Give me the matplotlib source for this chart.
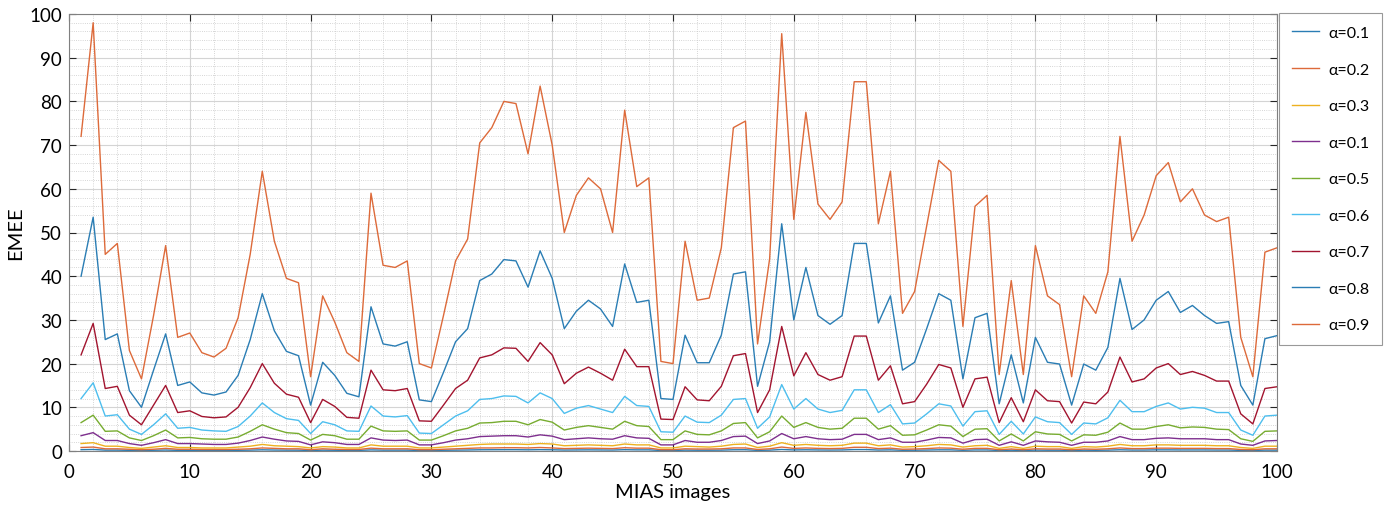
import numpy as np
import matplotlib.pyplot as plt
from matplotlib.ticker import MultipleLocator

plt.rcParams['font.family'] = ['Lato', 'DejaVu Sans']

images = np.arange(1, 101)

a09 = [72, 98, 45, 47.5, 23, 16.5, 31, 47, 26, 27,
       22.5, 21.5, 23.5, 30.5, 45, 64, 48, 39.5, 38.5, 17,
       35.5, 29.5, 22.5, 20.5, 59, 42.5, 42, 43.5, 20, 19,
       31, 43.5, 48.5, 70.5, 74, 80, 79.5, 68, 83.5, 70,
       50, 58.5, 62.5, 60, 50, 78, 60.5, 62.5, 20.5, 20,
       48, 34.5, 35, 46.5, 74, 75.5, 24.5, 44, 95.5, 53,
       77.5, 56.5, 53, 57, 84.5, 84.5, 52, 64, 31.5, 36.5,
       51.5, 66.5, 64, 28.5, 56, 58.5, 17.5, 39, 17.5, 47,
       35.5, 33.5, 17, 35.5, 31.5, 41, 72, 48, 54, 63,
       66, 57, 60, 54, 52.5, 53.5, 26, 17, 45.5, 46.5]

a08 = [40, 53.5, 25.5, 26.8, 13.8, 10, 18.5, 26.8, 15, 15.8,
       13.3, 12.8, 13.5, 17.3, 25.5, 36, 27.5, 22.8, 21.8, 10.5,
       20.3, 17.3, 13.2, 12.4, 33, 24.5, 24, 25, 11.7, 11.3,
       18, 25, 28, 39, 40.5, 43.8, 43.5, 37.5, 45.8, 39.5,
       28, 32, 34.5, 32.5, 28.5, 42.8, 34, 34.5, 12, 11.8,
       26.5, 20.2, 20.2, 26.5, 40.5, 41, 14.8, 25, 52, 30,
       42, 31, 29, 31, 47.5, 47.5, 29.3, 35.5, 18.5, 20.3,
       28, 36, 34.5, 16.5, 30.5, 31.5, 10.8, 22, 11, 26,
       20.3, 19.9, 10.5, 19.9, 18.5, 23.7, 39.5, 27.8, 30, 34.5,
       36.5, 31.7, 33.3, 31, 29.2, 29.6, 15, 10.5, 25.7, 26.4]

a07 = [22, 29.2, 14.3, 14.8, 8.2, 6, 10.5, 15, 8.8, 9.2,
       7.9, 7.6, 7.8, 10, 14.5, 20, 15.5, 13, 12.3, 6.5,
       11.8, 10.2, 7.7, 7.5, 18.5, 14, 13.8, 14.3, 6.9, 6.8,
       10.5, 14.3, 16.2, 21.3, 22, 23.6, 23.5, 20.5, 24.8, 22,
       15.4, 17.8, 19.2, 17.8, 16.2, 23.3, 19.3, 19.3, 7.3, 7.2,
       14.7, 11.7, 11.5, 14.8, 21.8, 22.3, 8.8, 14, 28.5, 17.2,
       22.5, 17.5, 16.2, 17, 26.3, 26.3, 16.2, 19.5, 10.8, 11.3,
       15.3, 19.8, 19, 10, 16.5, 16.9, 6.5, 12.2, 6.7, 14,
       11.5, 11.3, 6.4, 11.2, 10.8, 13.5, 21.5, 15.8, 16.5, 19,
       20, 17.5, 18.2, 17.3, 16, 16, 8.5, 6.2, 14.3, 14.7]

a06 = [12, 15.6, 8, 8.3, 5, 3.8, 6, 8.5, 5.2, 5.4,
       4.8, 4.6, 4.5, 5.6, 8, 11, 8.8, 7.4, 7, 4,
       6.7, 6, 4.6, 4.5, 10.3, 8, 7.8, 8.1, 4.1, 4,
       6, 8, 9.2, 11.8, 12, 12.6, 12.5, 11, 13.3, 12,
       8.6, 9.8, 10.4, 9.6, 8.8, 12.5, 10.4, 10.2, 4.4, 4.3,
       8, 6.6, 6.5, 8.2, 11.8, 12, 5.2, 7.8, 15.2, 9.6,
       12, 9.6, 8.8, 9.3, 14, 14, 8.8, 10.6, 6.2, 6.4,
       8.5, 10.8, 10.3, 5.7, 9, 9.2, 3.8, 6.8, 3.9, 7.8,
       6.7, 6.5, 3.8, 6.4, 6.2, 7.6, 11.6, 9, 9, 10.2,
       11, 9.6, 10, 9.8, 8.8, 8.8, 4.8, 3.6, 8, 8.2]

a05 = [6.5, 8.2, 4.5, 4.6, 3, 2.4, 3.5, 4.8, 3, 3.1,
       2.8, 2.7, 2.7, 3.2, 4.5, 6, 5, 4.2, 4, 2.5,
       3.8, 3.5, 2.7, 2.7, 5.7, 4.6, 4.5, 4.6, 2.5, 2.5,
       3.5, 4.6, 5.2, 6.4, 6.5, 6.8, 6.8, 6, 7.2, 6.6,
       4.8, 5.4, 5.8, 5.4, 5, 6.8, 5.8, 5.6, 2.6, 2.6,
       4.6, 3.8, 3.7, 4.6, 6.3, 6.5, 3, 4.4, 8, 5.4,
       6.5, 5.4, 5, 5.2, 7.5, 7.5, 5, 5.8, 3.6, 3.7,
       4.8, 6, 5.7, 3.3, 5, 5.1, 2.3, 3.9, 2.3, 4.4,
       3.9, 3.8, 2.3, 3.7, 3.6, 4.3, 6.4, 5, 5, 5.6,
       6, 5.3, 5.5, 5.4, 5, 4.9, 2.8, 2.2, 4.5, 4.6]

a04 = [3.5, 4.2, 2.4, 2.4, 1.7, 1.3, 1.9, 2.6, 1.7, 1.7,
       1.6, 1.5, 1.5, 1.8, 2.4, 3.2, 2.7, 2.3, 2.2, 1.4,
       2.1, 1.9, 1.5, 1.5, 3, 2.5, 2.4, 2.5, 1.4, 1.4,
       1.9, 2.5, 2.8, 3.3, 3.4, 3.5, 3.5, 3.2, 3.7, 3.4,
       2.6, 2.8, 3, 2.8, 2.7, 3.5, 3, 2.9, 1.4, 1.4,
       2.4, 2, 2, 2.4, 3.3, 3.4, 1.7, 2.3, 4, 2.8,
       3.3, 2.8, 2.6, 2.7, 3.8, 3.8, 2.6, 3, 2, 2,
       2.5, 3.1, 3, 1.8, 2.6, 2.7, 1.3, 2.1, 1.3, 2.3,
       2.1, 2, 1.3, 2, 2, 2.3, 3.3, 2.6, 2.6, 2.9,
       3, 2.8, 2.8, 2.8, 2.6, 2.6, 1.6, 1.3, 2.3, 2.4]

a03 = [1.7, 1.9, 1.1, 1.1, 0.8, 0.6, 0.9, 1.2, 0.8, 0.8,
       0.7, 0.7, 0.7, 0.9, 1.1, 1.5, 1.2, 1.1, 1, 0.7,
       1, 0.9, 0.7, 0.7, 1.4, 1.1, 1.1, 1.1, 0.7, 0.7,
       0.9, 1.1, 1.3, 1.5, 1.6, 1.6, 1.6, 1.5, 1.7, 1.6,
       1.2, 1.3, 1.4, 1.3, 1.2, 1.6, 1.4, 1.4, 0.7, 0.7,
       1.1, 1, 0.9, 1.1, 1.5, 1.6, 0.8, 1.1, 1.9, 1.3,
       1.5, 1.3, 1.2, 1.3, 1.8, 1.8, 1.2, 1.4, 0.9, 1,
       1.2, 1.5, 1.4, 0.9, 1.2, 1.3, 0.6, 1, 0.6, 1.1,
       1, 1, 0.6, 1, 0.9, 1.1, 1.5, 1.2, 1.2, 1.4,
       1.4, 1.3, 1.3, 1.3, 1.2, 1.2, 0.8, 0.6, 1.1, 1.1]

a02 = [0.8, 0.9, 0.5, 0.5, 0.4, 0.3, 0.4, 0.6, 0.4, 0.4,
       0.35, 0.35, 0.35, 0.4, 0.5, 0.7, 0.6, 0.5, 0.5, 0.3,
       0.5, 0.4, 0.35, 0.35, 0.65, 0.5, 0.5, 0.5, 0.3, 0.3,
       0.4, 0.5, 0.6, 0.7, 0.7, 0.75, 0.75, 0.7, 0.8, 0.7,
       0.55, 0.6, 0.65, 0.6, 0.55, 0.75, 0.65, 0.65, 0.3, 0.3,
       0.5, 0.45, 0.45, 0.5, 0.7, 0.7, 0.35, 0.5, 0.9, 0.6,
       0.7, 0.6, 0.55, 0.6, 0.85, 0.85, 0.55, 0.65, 0.4, 0.45,
       0.55, 0.7, 0.65, 0.4, 0.6, 0.6, 0.3, 0.45, 0.3, 0.5,
       0.45, 0.45, 0.3, 0.45, 0.4, 0.5, 0.7, 0.55, 0.55, 0.65,
       0.65, 0.6, 0.6, 0.6, 0.55, 0.55, 0.35, 0.3, 0.5, 0.5]

a01 = [0.3, 0.35, 0.2, 0.2, 0.15, 0.12, 0.17, 0.22, 0.15, 0.15,
       0.14, 0.14, 0.14, 0.16, 0.2, 0.27, 0.22, 0.2, 0.19, 0.12,
       0.19, 0.17, 0.14, 0.14, 0.25, 0.2, 0.2, 0.2, 0.12, 0.12,
       0.17, 0.2, 0.23, 0.28, 0.29, 0.3, 0.3, 0.27, 0.31, 0.28,
       0.22, 0.24, 0.26, 0.24, 0.22, 0.3, 0.26, 0.26, 0.12, 0.12,
       0.2, 0.18, 0.18, 0.2, 0.28, 0.29, 0.14, 0.2, 0.35, 0.24,
       0.28, 0.24, 0.22, 0.24, 0.33, 0.33, 0.22, 0.26, 0.16, 0.18,
       0.22, 0.27, 0.26, 0.16, 0.24, 0.24, 0.12, 0.18, 0.12, 0.2,
       0.18, 0.18, 0.12, 0.18, 0.16, 0.2, 0.28, 0.22, 0.22, 0.26,
       0.26, 0.24, 0.24, 0.24, 0.22, 0.22, 0.14, 0.12, 0.2, 0.2]

series = [a01, a02, a03, a04, a05, a06, a07, a08, a09]
labels = ['α=0.1', 'α=0.2', 'α=0.3', 'α=0.1', 'α=0.5',
          'α=0.6', 'α=0.7', 'α=0.8', 'α=0.9']
colors = ['#2a7db4', '#dd6a3a', '#EDB120', '#7E2F8E', '#77AC30',
          '#4DBEEE', '#A2142F', '#2a7db4', '#dd6a3a']

fig = plt.figure(figsize=(13.9, 5.06), dpi=100)
ax = fig.add_axes([69 / 1390, 54 / 506, 1208 / 1390, 437 / 506])

for vals, lab, c in zip(series, labels, colors):
    ax.plot(images, vals, color=c, lw=1.0, label=lab)

ax.set_xlim(0, 100)
ax.set_ylim(0, 100)
ax.xaxis.set_major_locator(MultipleLocator(10))
ax.yaxis.set_major_locator(MultipleLocator(10))
ax.xaxis.set_minor_locator(MultipleLocator(2))
ax.yaxis.set_minor_locator(MultipleLocator(2))

ax.grid(which='major', color='#d4d4d4', lw=0.8, ls='-')
ax.grid(which='minor', color='#c8c8c8', lw=0.6, ls=':')
ax.set_axisbelow(True)

ax.tick_params(which='major', direction='in', length=5, width=0.8,
               top=True, right=True, labelsize=13.5, color='#262626')
ax.tick_params(axis='x', which='major', pad=9)
ax.tick_params(axis='y', which='major', pad=5)
ax.tick_params(which='minor', length=0)
for s in ax.spines.values():
    s.set_color('#808080')
    s.set_linewidth(0.8)

ax.set_xlabel('MIAS images', fontsize=14.5)
ax.set_ylabel('EMEE', fontsize=14.5)
ax.xaxis.set_label_coords(0.5, -0.074)
ax.yaxis.set_label_coords(-0.037, 0.5)

leg = ax.legend(loc='upper left', bbox_to_anchor=(1.0015, 1.002),
                borderaxespad=0, fontsize=11.5, labelspacing=1.4,
                handlelength=1.7, handletextpad=0.6, frameon=True,
                fancybox=False, edgecolor='#808080', borderpad=0.8)
leg.get_frame().set_linewidth(0.8)

fig.savefig('out.png', dpi=100)
